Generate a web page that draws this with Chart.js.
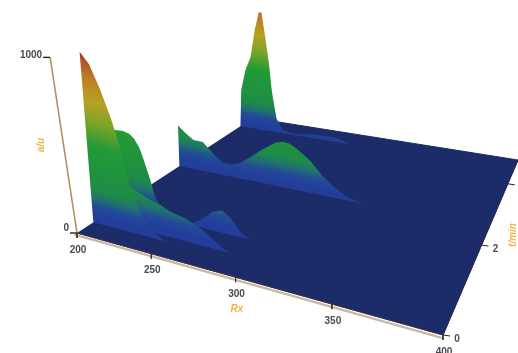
<!DOCTYPE html>
<html>
<head>
<meta charset="utf-8">
<style>
  html, body { margin: 0; padding: 0; background: #fff; }
  canvas { display: block; filter: blur(0.65px); }
</style>
<script src="https://cdn.jsdelivr.net/npm/chart.js@4/dist/chart.umd.js"></script>
</head>
<body>
<canvas id="chart" width="518" height="353"></canvas>
<script>
// axis ticks
const wlTicks = [200, 250, 300, 350, 400];
const timeTicks = [0, 2, 4];
const zTicks = [0, 1000];

// axis range
const wlMin = 200, wlMax = 400, timeMax = 5, zMax = 1000;

// traces, back to front
const timeF = 4.5;
const wlF = [200, 200.5, 204, 208, 211, 214, 216, 219.5, 223, 226, 230.5, 236, 245, 255, 265, 278, 284, 290];
const zF = [0, 280, 440, 540, 755, 895, 895, 710, 510, 305, 105, 25, 12, 22, 32, 32, 20, 0];

const timeDE = 2.45;
const wlDE = [200, 200.5, 206, 212, 219, 223, 229, 234, 240, 246, 254, 260, 266.5, 271, 275.6, 280, 284.4, 294, 302, 311, 318, 324, 330];
const zDE = [0, 265, 225, 190, 190, 157, 110, 82, 80, 100, 155, 205, 255, 285, 300, 295, 275, 210, 130, 65, 28, 10, 0];

const timeB = 0.85;
const wlB = [200, 200.5, 202, 205, 210, 214, 217, 220, 222, 226, 228, 232, 238, 245, 252, 260, 266, 272, 277, 282, 286, 290];
const zB = [0, 540, 460, 465, 470, 462, 440, 395, 340, 210, 130, 50, 15, 0, 5, 60, 115, 135, 105, 45, 12, 0];

const timeA2 = 0.45;
const wlA2 = [200, 200.5, 225, 238, 244, 250, 260, 269, 278, 283, 287];
const zA2 = [0, 250, 240, 190, 180, 155, 135, 100, 40, 10, 0];

const timeA = 0.33;
const wlA = [200, 206, 211, 216, 221, 225, 228, 231, 236, 242, 248, 252];
const zA = [0, 1000, 940, 810, 650, 490, 320, 200, 105, 40, 5, 0];

const traces = [
  { t: timeF, wl: wlF, z: zF },
  { t: timeDE, wl: wlDE, z: zDE },
  { t: timeB, wl: wlB, z: zB },
  { t: timeA2, wl: wlA2, z: zA2 },
  { t: timeA, wl: wlA, z: zA }
];

// colour by height, 0..1
const heightColors = [
  [0, '#233c98'], [0.05, '#223f9c'], [0.1, '#234c96'], [0.14, '#1e6f74'],
  [0.2, '#1e8c46'], [0.45, '#229a36'], [0.6, '#7ea428'], [0.72, '#b8a022'],
  [0.85, '#bd7f24'], [0.95, '#b0552a'], [1, '#a52a28']
];

// floor corners on the page, used to build the projection
const corners = { fl: [77, 233], fr: [443, 335], br: [518, 160], bl: [253, 118] };
const vanish = [234, 1260];

const dx1 = [corners.fr[0] - corners.br[0], corners.fr[1] - corners.br[1]];
const dx2 = [corners.bl[0] - corners.br[0], corners.bl[1] - corners.br[1]];
const sq = [corners.fl[0] - corners.fr[0] + corners.br[0] - corners.bl[0],
            corners.fl[1] - corners.fr[1] + corners.br[1] - corners.bl[1]];
const den = dx1[0] * dx2[1] - dx1[1] * dx2[0];
const g = (sq[0] * dx2[1] - sq[1] * dx2[0]) / den;
const h = (dx1[0] * sq[1] - dx1[1] * sq[0]) / den;
const ax = corners.fr[0] - corners.fl[0] + g * corners.fr[0];
const ay = corners.fr[1] - corners.fl[1] + g * corners.fr[1];
const bx = corners.bl[0] - corners.fl[0] + h * corners.bl[0];
const by = corners.bl[1] - corners.fl[1] + h * corners.bl[1];

function project(wl, t, z) {
  const u = (wl - wlMin) / (wlMax - wlMin);
  const v = t / timeMax;
  const w = g * u + h * v + 1;
  const gx = (ax * u + bx * v + corners.fl[0]) / w;
  const gy = (ay * u + by * v + corners.fl[1]) / w;
  const k = (0.171 - 0.062 * v) * z / zMax;
  return { x: gx + (gx - vanish[0]) * k, y: gy + (gy - vanish[1]) * k };
}

// iso-height lines run along the trace's own floor line
function traceGradient(ctx, trace) {
  const wl0 = trace.wl[0], wl1 = trace.wl[trace.wl.length - 1];
  const p0 = project(wl0, trace.t, 0), p1 = project(wl1, trace.t, 0);
  const len = Math.hypot(p1.x - p0.x, p1.y - p0.y);
  const nx = (p1.y - p0.y) / len, ny = -(p1.x - p0.x) / len;
  const peakWl = trace.wl[trace.z.indexOf(Math.max.apply(null, trace.z))];
  const base = project(peakWl, trace.t, 0), top = project(peakWl, trace.t, zMax);
  const d = (top.x - base.x) * nx + (top.y - base.y) * ny;
  const grad = ctx.createLinearGradient(base.x, base.y, base.x + nx * d, base.y + ny * d);
  heightColors.forEach(function (s) { grad.addColorStop(s[0], s[1]); });
  return grad;
}

const datasets = [];

function lineSet(points, color, width, order) {
  datasets.push({ data: points, showLine: true, borderColor: color, borderWidth: width, pointRadius: 0, fill: false, order: order });
}

// floor
datasets.push({
  data: [project(wlMin, 0, 0), project(wlMax, 0, 0), project(wlMax, timeMax, 0), project(wlMin, timeMax, 0)],
  showLine: true, fill: 'shape', backgroundColor: '#1b2c68', borderColor: '#1b2c68', borderWidth: 1, pointRadius: 0, order: 100
});

// curtains, back to front
traces.forEach(function (trace, i) {
  const pts = trace.wl.map(function (w, j) { return project(w, trace.t, trace.z[j]); });
  pts.push(project(trace.wl[0], trace.t, 0));
  datasets.push({
    data: pts, showLine: true, fill: 'shape', borderWidth: 0, pointRadius: 0, order: 90 - i,
    backgroundColor: function (c) {
      if (!c.chart.chartArea) return '#233c98';
      return traceGradient(c.chart.ctx, trace);
    }
  });
});

// axis lines
lineSet([project(wlMin, -0.05, 0), project(wlMax, -0.05, 0)], '#cbb8a2', 2.4, 10);
lineSet([project(wlMin, 0, 0), project(wlMax, 0, 0)], '#4a3038', 0.8, 9);
lineSet([project(wlMax, 0, 0), project(wlMax, timeMax, 0)], '#33283c', 1, 9);
lineSet([project(wlMin, 0, 0), project(wlMin, 0, zMax)], '#b3905f', 1.6, 9);

// tick marks
wlTicks.forEach(function (w) {
  const p = project(w, 0, 0);
  lineSet([p, { x: p.x, y: p.y + 5 }], '#333', 1, 5);
});
timeTicks.forEach(function (t) {
  const p = project(wlMax, t, 0);
  lineSet([p, { x: p.x + 7, y: p.y + 1 }], '#222', 1, 5);
});
zTicks.forEach(function (z) {
  const p = project(wlMin, 0, z);
  lineSet([p, { x: p.x - 7, y: p.y }], '#222', 1.4, 5);
});

const axisText = {
  id: 'axisText',
  afterDraw: function (chart) {
    const c = chart.ctx, sx = chart.scales.x, sy = chart.scales.y;
    c.save();
    c.textAlign = 'center';
    c.textBaseline = 'middle';
    c.fillStyle = '#4a4a4a';
    c.font = 'bold 10px "Liberation Sans"';
    wlTicks.forEach(function (w) {
      const p = project(w, 0, 0);
      c.fillText(String(w), sx.getPixelForValue(p.x) + 1, sy.getPixelForValue(p.y) + 17);
    });
    timeTicks.forEach(function (t) {
      const p = project(wlMax, t, 0);
      c.fillText(String(t), sx.getPixelForValue(p.x) + 14, sy.getPixelForValue(p.y) + 4);
    });
    zTicks.forEach(function (z) {
      const p = project(wlMin, 0, z);
      c.textAlign = 'right';
      c.fillText(String(z), sx.getPixelForValue(p.x) - 8, sy.getPixelForValue(p.y) - (z === 0 ? 5 : 2));
    });
    c.textAlign = 'center';
    c.fillStyle = '#f2b544';
    c.font = 'italic bold 10px "Liberation Sans"';
    c.fillText('Rx', 237, 309);
    c.save();
    c.translate(41, 145);
    c.rotate(-Math.PI / 2);
    c.fillText('a/u', 0, 0);
    c.restore();
    c.save();
    c.translate(513, 235);
    c.rotate(-Math.PI / 2);
    c.fillText('t/min', 0, 0);
    c.restore();
    c.restore();
  }
};

new Chart(document.getElementById('chart').getContext('2d'), {
  type: 'scatter',
  data: { datasets: datasets },
  options: {
    responsive: false,
    animation: false,
    layout: { padding: 0 },
    plugins: { legend: { display: false }, tooltip: { enabled: false } },
    scales: {
      x: { type: 'linear', min: 0, max: 518, display: false },
      y: { type: 'linear', min: 0, max: 353, reverse: true, display: false }
    }
  },
  plugins: [axisText]
});
</script>
</body>
</html>
